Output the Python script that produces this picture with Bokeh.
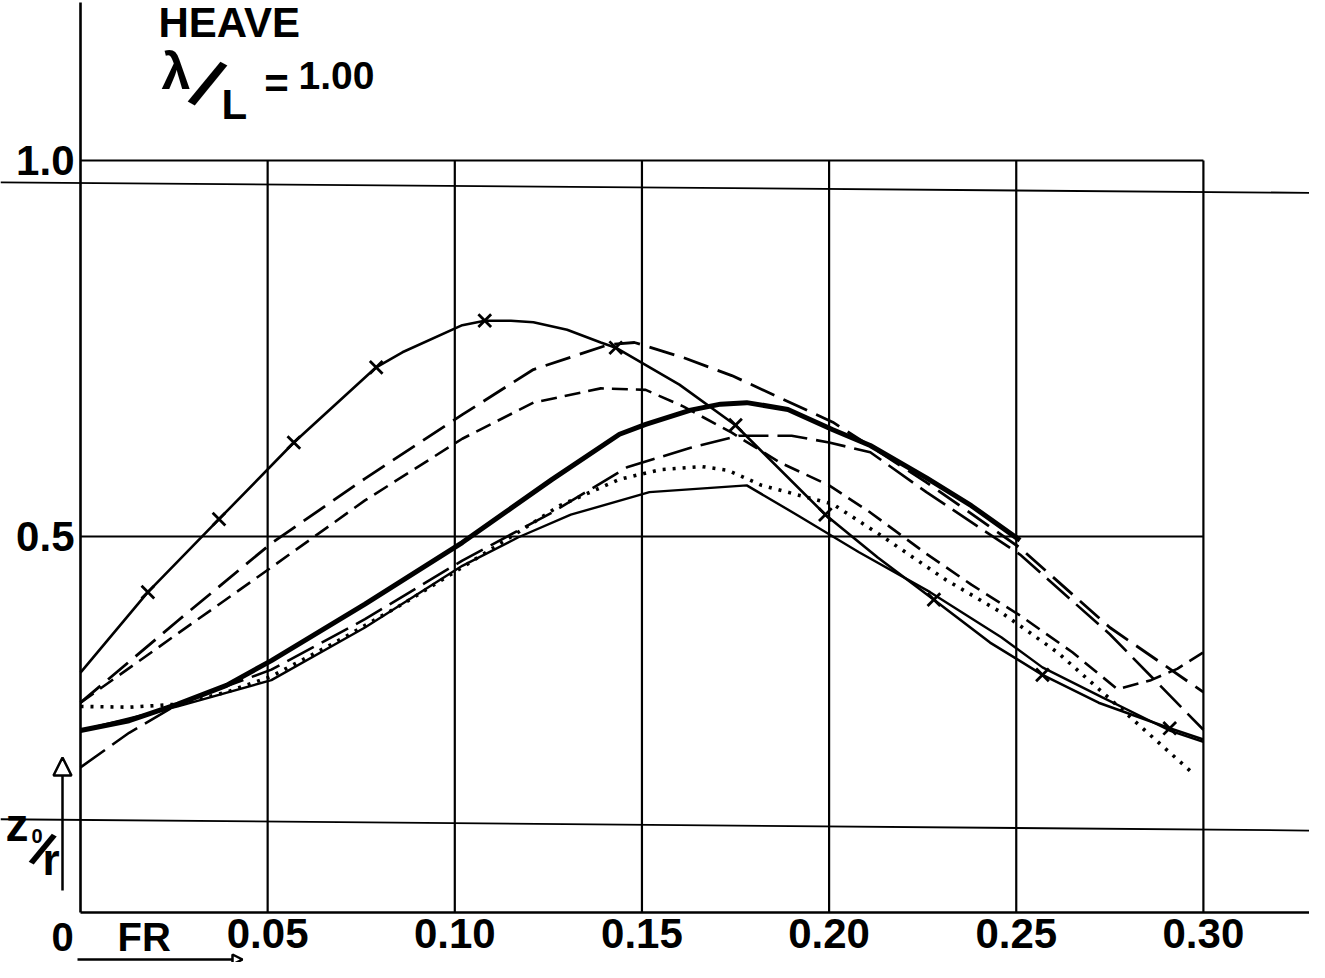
from bokeh.plotting import figure
from bokeh.models import Range1d, FixedTicker, PrintfTickFormatter, Arrow, NormalHead
from bokeh.core.properties import value
from bokeh.embed import file_html
from bokeh.resources import INLINE

# ---------------- data ----------------
x_ticks = [0.05, 0.10, 0.15, 0.20, 0.25, 0.30]
y_ticks = [0.5, 1.0]
grid_x_extent = (0.0, 0.30)
grid_y_extent = (0.0, 1.0)

# curve with crosses (line through the measured points)
A_x = [0.000, 0.018, 0.037, 0.057, 0.079, 0.086, 0.102, 0.108, 0.115, 0.121, 0.130, 0.139,
       0.143, 0.160, 0.175, 0.199, 0.213, 0.228, 0.243, 0.257, 0.272, 0.291, 0.300]
A_y = [0.319, 0.426, 0.523, 0.625, 0.725, 0.745, 0.781, 0.787, 0.787, 0.785, 0.775, 0.758,
       0.751, 0.702, 0.648, 0.529, 0.472, 0.416, 0.359, 0.316, 0.279, 0.245, 0.230]
A_mark_x = [0.018, 0.037, 0.057, 0.079, 0.108, 0.143, 0.175, 0.199, 0.228, 0.257, 0.291]
A_mark_y = [0.426, 0.523, 0.625, 0.725, 0.787, 0.751, 0.648, 0.529, 0.416, 0.316, 0.245]

# long dash, upper
B_x = [0.000, 0.026, 0.051, 0.076, 0.102, 0.121, 0.141, 0.148, 0.161, 0.174, 0.201, 0.226,
       0.251, 0.275, 0.300]
B_y = [0.279, 0.388, 0.491, 0.577, 0.662, 0.722, 0.755, 0.758, 0.738, 0.714, 0.652, 0.572,
       0.485, 0.379, 0.293]

# dashed, peak 0.70, upturn at the end
C_x = [0.000, 0.026, 0.051, 0.076, 0.102, 0.121, 0.139, 0.151, 0.161, 0.174, 0.187, 0.200,
       0.211, 0.226, 0.238, 0.251, 0.265, 0.277, 0.286, 0.293, 0.300]
C_y = [0.279, 0.371, 0.459, 0.548, 0.630, 0.678, 0.697, 0.695, 0.673, 0.638, 0.598, 0.568,
       0.532, 0.477, 0.436, 0.395, 0.346, 0.297, 0.309, 0.324, 0.346]

# thick solid
E_x = [0.000, 0.013, 0.026, 0.039, 0.051, 0.076, 0.102, 0.126, 0.144, 0.151, 0.163, 0.171,
       0.178, 0.189, 0.201, 0.211, 0.226, 0.238, 0.251]
E_y = [0.242, 0.255, 0.277, 0.302, 0.335, 0.410, 0.492, 0.576, 0.636, 0.649, 0.668, 0.676,
       0.678, 0.669, 0.642, 0.621, 0.578, 0.541, 0.495]

# long dash, lower
G_x = [0.000, 0.013, 0.026, 0.051, 0.076, 0.102, 0.126, 0.146, 0.163, 0.176, 0.190, 0.200,
       0.211, 0.226, 0.251, 0.275, 0.300]
G_y = [0.193, 0.239, 0.277, 0.323, 0.390, 0.468, 0.532, 0.592, 0.618, 0.634, 0.634, 0.625,
       0.612, 0.559, 0.476, 0.370, 0.243]

# dotted
H_x = [0.000, 0.013, 0.026, 0.039, 0.051, 0.068, 0.086, 0.102, 0.118, 0.128, 0.144, 0.155,
       0.166, 0.173, 0.182, 0.201, 0.214, 0.231, 0.246, 0.261, 0.273, 0.297]
H_y = [0.274, 0.273, 0.277, 0.293, 0.314, 0.359, 0.410, 0.459, 0.509, 0.541, 0.576, 0.589,
       0.593, 0.588, 0.568, 0.543, 0.501, 0.443, 0.399, 0.346, 0.293, 0.186]

# thin solid, peak 0.57
I_x = [0.000, 0.026, 0.051, 0.076, 0.102, 0.117, 0.131, 0.152, 0.178, 0.192, 0.208, 0.227,
       0.246, 0.257, 0.273, 0.291, 0.300]
I_y = [0.242, 0.274, 0.309, 0.379, 0.461, 0.499, 0.529, 0.559, 0.568, 0.527, 0.479, 0.426,
       0.366, 0.326, 0.286, 0.242, 0.227]

# stray ruled lines of the scanned sheet (left value, right value)
sheet_y_left = [0.971, 0.124]
sheet_y_right = [0.957, 0.109]

# ---------------- layout ----------------
W, H = 1309, 962
SHIFT = 8                       # whole drawing raised so the bottom lettering fits
X0_PX, X_SCALE = 80.0, 3743.0   # canvas pixel of x=0, pixels per unit
Y0_PX, Y_SCALE = 920.0 - SHIFT, 752.0


def dx(px):
    return (px - X0_PX) / X_SCALE


def dy(py):
    # py is given in reference-picture pixels
    return (Y0_PX - (py - SHIFT)) / Y_SCALE


FONT = value("Liberation Sans")

p = figure(width=W, height=H, output_backend="svg", toolbar_location=None,
           x_range=Range1d(dx(0), dx(W)),
           y_range=Range1d(dy(H + SHIFT), dy(SHIFT)),
           min_border=0, outline_line_color=None, background_fill_color="white",
           border_fill_color="white")
p.xgrid.visible = False
p.ygrid.visible = False

# axes drawn through the origin
for ax in (p.xaxis, p.yaxis):
    ax.fixed_location = 0
    ax.axis_line_color = "black"
    ax.axis_line_width = 2.6
    ax.major_tick_in = 0
    ax.major_tick_out = 0
    ax.minor_tick_line_color = None
    ax.major_tick_line_color = None
    ax.major_label_text_font = "Liberation Sans"
    ax.major_label_text_font_size = "42px"
    ax.major_label_text_font_style = "bold"
    ax.major_label_text_color = "black"

p.xaxis.bounds = (0, dx(1310))
p.yaxis.bounds = (0, dy(10))
p.xaxis.ticker = FixedTicker(ticks=x_ticks)
p.yaxis.ticker = FixedTicker(ticks=y_ticks)
p.xaxis.formatter = PrintfTickFormatter(format="%.2f")
p.yaxis.formatter = PrintfTickFormatter(format="%.1f")
p.xaxis.major_label_standoff = 6
p.yaxis.major_label_standoff = 6

# grid lines limited to the drawn field
p.segment(x0=x_ticks, y0=[grid_y_extent[0]] * len(x_ticks),
          x1=x_ticks, y1=[grid_y_extent[1]] * len(x_ticks),
          line_color="black", line_width=2.2)
p.segment(x0=[grid_x_extent[0]] * len(y_ticks), y0=y_ticks,
          x1=[grid_x_extent[1]] * len(y_ticks), y1=y_ticks,
          line_color="black", line_width=2.2)

# stray sheet lines
p.segment(x0=[dx(0)] * len(sheet_y_left), y0=sheet_y_left,
          x1=[dx(W)] * len(sheet_y_right), y1=sheet_y_right,
          line_color="black", line_width=1.8)

# curves
p.line(B_x, B_y, line_color="black", line_width=2.8, line_dash="26 10")
p.line(C_x, C_y, line_color="black", line_width=2.6, line_dash="16 8")
p.line(G_x, G_y, line_color="black", line_width=2.6, line_dash="30 9")
p.line(H_x, H_y, line_color="black", line_width=3.6, line_dash="3 7")
p.line(I_x, I_y, line_color="black", line_width=2.4)
p.line(E_x, E_y, line_color="black", line_width=5.0)
p.line(A_x, A_y, line_color="black", line_width=2.6)
p.scatter(A_mark_x, A_mark_y, marker="x", size=18, line_width=2.8, line_color="black")


# titles and lettering (positions are the vertical middles of the letters)
def put(px, py, txt, size, align="left", angle=0.0):
    p.text(x=[dx(px)], y=[dy(py)], text=[txt], text_font=FONT,
           text_font_size=f"{size}px", text_font_style="bold", text_color="black",
           text_align=align, text_baseline="middle", angle=angle)


put(158, 30, "HEAVE", 42)
put(161, 78, "λ", 52)
put(207, 91, "/", 68, align="center", angle=-0.50)
put(221, 112, "L", 42)
put(276, 91, "=", 42, align="center")
put(298, 83, "1.00", 39)

put(62, 944, "0", 40, align="center")
put(117, 944, "FR", 40)

put(5, 832, "z", 46)
put(31, 843, "0", 20)
put(42, 857, "/", 48, align="center", angle=-0.50)
put(42, 867, "r", 44)

# arrows
p.add_layout(Arrow(end=NormalHead(size=18, fill_color="white", line_color="black", line_width=2.5),
                   x_start=dx(62), y_start=dy(898), x_end=dx(62), y_end=dy(765),
                   line_color="black", line_width=2.5))
p.add_layout(Arrow(end=NormalHead(size=10, fill_color="white", line_color="black", line_width=2.5),
                   x_start=dx(77), y_start=dy(967), x_end=dx(242), y_end=dy(967),
                   line_color="black", line_width=2.5))

open("out.html", "w").write(file_html(p, INLINE))
